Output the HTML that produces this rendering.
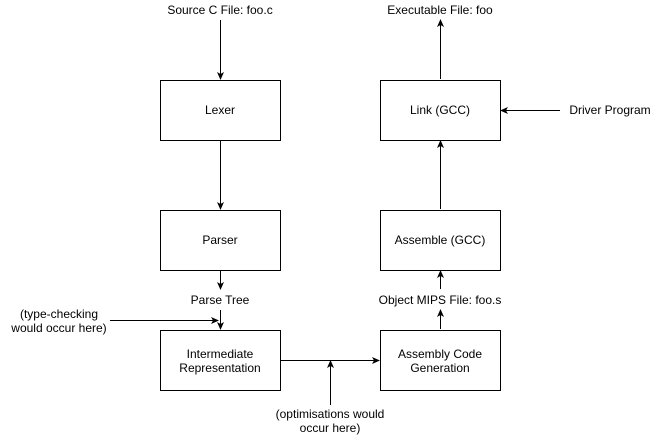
<!DOCTYPE html>
<html><head><style>
body{margin:0;background:#fff;}
svg text{font-family:"Liberation Sans",Arial,sans-serif;font-size:12px;fill:#000;}
</style></head><body>
<svg width="661" height="435" viewBox="0 0 661 435" xmlns="http://www.w3.org/2000/svg">
<defs><marker id="a" markerWidth="8" markerHeight="8" refX="7" refY="4" orient="auto" markerUnits="userSpaceOnUse"><path d="M0,0.5 L8,4 L0,7.5 L2,4 Z" fill="#000"/></marker></defs>
<g fill="#fff" stroke="#000" stroke-width="1">
<rect x="160.5" y="80.5" width="120" height="60"/>
<rect x="160.5" y="210.5" width="120" height="60"/>
<rect x="160.5" y="330.5" width="120" height="60"/>
<rect x="380.5" y="80.5" width="120" height="60"/>
<rect x="380.5" y="210.5" width="120" height="60"/>
<rect x="380.5" y="330.5" width="120" height="60"/>
</g>
<g stroke="#000" stroke-width="1" fill="none" marker-end="url(#a)">
<line x1="220.5" y1="20" x2="220.5" y2="79"/>
<line x1="220.5" y1="141" x2="220.5" y2="209"/>
<line x1="220.5" y1="271" x2="220.5" y2="289"/>
<line x1="220.5" y1="310" x2="220.5" y2="329"/>
<line x1="110" y1="320.5" x2="218" y2="320.5"/>
<line x1="281" y1="360.5" x2="379" y2="360.5"/>
<line x1="330.5" y1="405" x2="330.5" y2="361"/>
<line x1="440.5" y1="329" x2="440.5" y2="310"/>
<line x1="440.5" y1="289" x2="440.5" y2="271"/>
<line x1="440.5" y1="209" x2="440.5" y2="141"/>
<line x1="440.5" y1="79" x2="440.5" y2="20"/>
<line x1="560" y1="110.5" x2="501" y2="110.5"/>
</g>
<g text-anchor="middle">
<text x="220" y="14">Source C File: foo.c</text>
<text x="220" y="114">Lexer</text>
<text x="220" y="244">Parser</text>
<text x="220" y="304">Parse Tree</text>
<text x="220" y="358">Intermediate</text>
<text x="220" y="372">Representation</text>
<text x="59" y="318">(type-checking</text>
<text x="59" y="332">would occur here)</text>
<text x="330" y="418">(optimisations would</text>
<text x="330" y="432">occur here)</text>
<text x="440" y="14">Executable File: foo</text>
<text x="440" y="114">Link (GCC)</text>
<text x="440" y="244">Assemble (GCC)</text>
<text x="440" y="304">Object MIPS File: foo.s</text>
<text x="440" y="358">Assembly Code</text>
<text x="440" y="372">Generation</text>
<text x="610" y="114">Driver Program</text>
</g>
</svg>
</body></html>
